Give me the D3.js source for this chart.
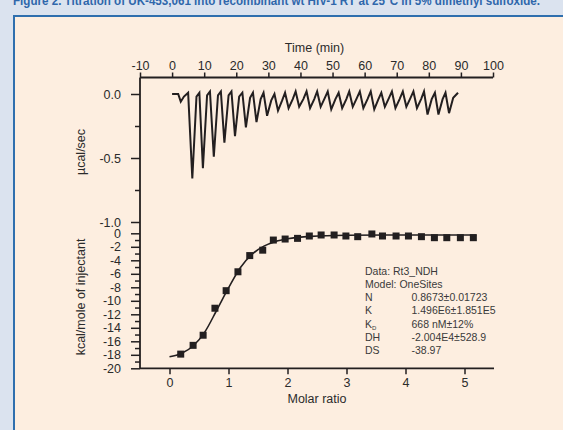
<!DOCTYPE html>
<html>
<head>
<meta charset="utf-8">
<script src="https://cdn.jsdelivr.net/npm/d3@7"></script>
<style>
  body { margin: 0; background: #dbe3ef; }
  svg text { font-family: 'Liberation Sans', Arial, Helvetica, sans-serif; }
</style>
</head>
<body>
<svg width="563" height="430"></svg>
<script>
'use strict';

// raw ITC thermogram: [time (min), µcal/sec]
var rawTrace = [
    [0.0, 0.00], [1.9, 0.00], [2.7, -0.06], [3.7, -0.02], [5.0, 0.01],
    [6.3, -0.66], [7.6, -0.02], [8.5, 0.01],
    [9.6, -0.58], [10.9, -0.01], [11.8, 0.02],
    [13.0, -0.49], [14.3, -0.01], [15.2, 0.02],
    [16.3, -0.38], [17.6, -0.01], [18.5, 0.02],
    [19.6, -0.33], [20.9, -0.02], [21.9, 0.01],
    [23.0, -0.26], [24.3, -0.03], [25.2, 0.01],
    [26.3, -0.22], [27.6, -0.04], [28.5, 0.01],
    [29.6, -0.17], [30.9, -0.05], [31.9, 0.00],
    [33.0, -0.13], [34.3, -0.05], [35.2, 0.01],
    [36.3, -0.11], [37.6, -0.04], [38.5, 0.02],
    [39.6, -0.10], [40.9, -0.04], [41.9, 0.02],
    [43.0, -0.11], [44.3, -0.04], [45.2, 0.02],
    [46.3, -0.10], [47.6, -0.03], [48.5, 0.02],
    [49.6, -0.12], [50.9, -0.04], [51.9, 0.01],
    [53.0, -0.11], [54.3, -0.04], [55.2, 0.02],
    [56.3, -0.10], [57.6, -0.03], [58.5, 0.02],
    [59.6, -0.11], [60.9, -0.04], [61.9, 0.02],
    [63.0, -0.12], [64.3, -0.04], [65.2, 0.01],
    [66.3, -0.10], [67.6, -0.03], [68.5, 0.02],
    [69.6, -0.11], [70.9, -0.04], [71.9, 0.02],
    [73.0, -0.10], [74.3, -0.03], [75.2, 0.02],
    [76.3, -0.11], [77.6, -0.04], [78.5, 0.02],
    [79.6, -0.16], [80.9, -0.04], [81.9, 0.01],
    [83.0, -0.16], [84.3, -0.04], [85.2, 0.01],
    [86.3, -0.15], [87.6, -0.03], [89.1, 0.01]
];

// integrated heats per injection
var molarRatio = [0.19, 0.40, 0.57, 0.77, 0.96, 1.16, 1.36, 1.58, 1.76, 1.96,
    2.17, 2.37, 2.57, 2.79, 2.99, 3.19, 3.43, 3.61, 3.84, 4.05,
    4.27, 4.49, 4.70, 4.93, 5.15];
var heat = [-17.9, -16.6, -15.1, -11.1, -8.5, -5.7, -3.3, -2.5, -1.0, -0.85,
    -0.75, -0.4, -0.25, -0.25, -0.4, -0.5, -0.1, -0.4, -0.4, -0.4,
    -0.5, -0.65, -0.65, -0.65, -0.65];

// one-site fit curve
var fitRatio = [0.0, 0.2, 0.4, 0.6, 0.8, 1.0, 1.2, 1.4, 1.6, 1.8, 2.0, 2.4, 3.0, 4.0, 5.2];
var fitHeat = [-18.3, -17.8, -16.7, -14.6, -11.4, -8.1, -5.1, -3.1, -1.9, -1.2, -0.8, -0.45, -0.3, -0.25, -0.25];

var timeTicks = [-10, 0, 10, 20, 30, 40, 50, 60, 70, 80, 90, 100];
var powerTicks = [0, -0.5, -1.0];
var powerMinor = [-0.25, -0.75];
var ratioTicks = [0, 1, 2, 3, 4, 5];
var heatTicks = [0, -2, -4, -6, -8, -10, -12, -14, -16, -18, -20];
var heatMinor = [-1, -3, -5, -7, -9, -11, -13, -15, -17, -19];

var fitLabels = ['N', 'K', 'KD', 'DH', 'DS'];
var fitValues = ['0.8673\u00b10.01723', '1.496E6\u00b11.851E5', '668 nM\u00b112%', '-2.004E4\u00b1528.9', '-38.97'];

var title = 'Figure 2.  Titration of UK-453,061 into recombinant wt HIV-1 RT at 25\u00b0C in 5% dimethyl sulfoxide.';

var ink = '#231f20',
    svg = d3.select('svg');

// figure box
svg.append('text')
    .attr('x', 13)
    .attr('y', 4.5)
    .attr('textLength', 527)
    .attr('lengthAdjust', 'spacingAndGlyphs')
    .style('font-family', "'Liberation Sans Narrow', 'Liberation Sans', Arial, sans-serif")
    .style('font-weight', 'bold')
    .style('font-size', '12.5px')
    .attr('fill', '#2f67ab')
    .text(title);

svg.append('rect')
    .attr('x', 14)
    .attr('y', 16)
    .attr('width', 600)
    .attr('height', 500)
    .attr('fill', '#fdeee0')
    .attr('stroke', '#2f6fae')
    .attr('stroke-width', 2);

var left = 140, topAxisY = 77.5, bottomAxisY = 368.3;

var xTime = d3.scaleLinear().domain([-10, 100]).range([left, 493]);
var yPower = d3.scaleLinear().domain([0, -1]).range([94, 222]);
var xRatio = d3.scaleLinear().domain([-0.5, 5.5]).range([left, 494]);
var yHeat = d3.scaleLinear().domain([0, -20]).range([233.3, bottomAxisY]);

function styleAxis(g, size) {
    g.select('.domain').remove();
    g.selectAll('line').attr('stroke', ink).attr('stroke-width', 1.5);
    g.selectAll('text').attr('fill', '#2b2b2b').style('font-size', size || '12.5px');
}

// time axis (top)
svg.append('g')
    .attr('transform', 'translate(0,' + topAxisY + ')')
    .call(d3.axisTop(xTime).tickValues(timeTicks).tickSize(5).tickPadding(3)
        .tickFormat(function(d) { return String(d); }))
    .call(styleAxis);

// power axis (upper left)
svg.append('g')
    .attr('transform', 'translate(' + left + ',0)')
    .call(d3.axisLeft(yPower).tickValues(powerTicks).tickSize(9).tickPadding(10)
        .tickFormat(function(d) { return d.toFixed(1); }))
    .call(styleAxis);
svg.append('g')
    .attr('transform', 'translate(' + left + ',0)')
    .call(d3.axisLeft(yPower).tickValues(powerMinor).tickSize(5).tickFormat(''))
    .call(styleAxis);

// heat axis (lower left)
svg.append('g')
    .attr('transform', 'translate(' + left + ',0)')
    .call(d3.axisLeft(yHeat).tickValues(heatTicks).tickSize(9).tickPadding(10)
        .tickFormat(function(d) { return String(d); }))
    .call(styleAxis);
svg.append('g')
    .attr('transform', 'translate(' + left + ',0)')
    .call(d3.axisLeft(yHeat).tickValues(heatMinor).tickSize(5).tickFormat(''))
    .call(styleAxis);

// molar ratio axis (bottom)
svg.append('g')
    .attr('transform', 'translate(0,' + bottomAxisY + ')')
    .call(d3.axisBottom(xRatio).tickValues(ratioTicks).tickSize(6).tickPadding(3.5)
        .tickFormat(function(d) { return String(d); }))
    .call(styleAxis);

// frame lines
var frame = svg.append('g').attr('stroke', ink).attr('stroke-width', 1.8).attr('fill', 'none');
frame.append('line').attr('x1', left).attr('x2', xTime(100)).attr('y1', topAxisY).attr('y2', topAxisY);
frame.append('line').attr('x1', left).attr('x2', left).attr('y1', topAxisY).attr('y2', bottomAxisY);
frame.append('line').attr('x1', left).attr('x2', xRatio(5.5)).attr('y1', bottomAxisY).attr('y2', bottomAxisY);

// axis titles
svg.append('text')
    .attr('x', (xTime(-10) + xTime(100)) / 2 - 2)
    .attr('y', 52)
    .attr('text-anchor', 'middle')
    .attr('fill', '#2b2b2b')
    .style('font-size', '12.5px')
    .text('Time (min)');

svg.append('text')
    .attr('x', (xRatio(-0.5) + xRatio(5.5)) / 2)
    .attr('y', 402.5)
    .attr('text-anchor', 'middle')
    .attr('fill', '#2b2b2b')
    .style('font-size', '12.5px')
    .text('Molar ratio');

svg.append('text')
    .attr('transform', 'translate(85,152) rotate(-90)')
    .attr('text-anchor', 'middle')
    .attr('fill', '#2b2b2b')
    .style('font-size', '12.5px')
    .text('\u00b5cal/sec');

svg.append('text')
    .attr('transform', 'translate(85,297) rotate(-90)')
    .attr('text-anchor', 'middle')
    .attr('fill', '#2b2b2b')
    .style('font-size', '12.5px')
    .text('kcal/mole of injectant');

// thermogram
var rawLine = d3.line()
    .x(function(d) { return xTime(d[0]); })
    .y(function(d) { return yPower(d[1]); });

svg.append('path')
    .datum(rawTrace)
    .attr('d', rawLine)
    .attr('fill', 'none')
    .attr('stroke', ink)
    .attr('stroke-width', 2)
    .attr('stroke-linejoin', 'miter');

// fit curve
var fitLine = d3.line()
    .x(function(d, i) { return xRatio(fitRatio[i]); })
    .y(function(d) { return yHeat(d); })
    .curve(d3.curveMonotoneX);

svg.append('path')
    .datum(fitHeat)
    .attr('d', fitLine)
    .attr('fill', 'none')
    .attr('stroke', ink)
    .attr('stroke-width', 1.6);

// heat points
var sq = 7;
svg.selectAll('.heat-point')
    .data(heat)
    .enter()
    .append('rect')
    .attr('class', 'heat-point')
    .attr('x', function(d, i) { return xRatio(molarRatio[i]) - sq / 2; })
    .attr('y', function(d) { return yHeat(d) - sq / 2; })
    .attr('width', sq)
    .attr('height', sq)
    .attr('fill', ink);

// fit results
var notes = svg.append('g')
    .attr('fill', '#3a3a3a')
    .style('font-size', '10.5px');

notes.append('text').attr('x', 365).attr('y', 274.5).text('Data: Rt3_NDH');
notes.append('text').attr('x', 365).attr('y', 287.5).text('Model: OneSites');

fitLabels.forEach(function(lab, i) {
    var y = 301 + i * 13.3;
    var t = notes.append('text').attr('x', 365).attr('y', y);
    if (lab === 'KD') {
        t.text('K');
        t.append('tspan').attr('dy', 2).style('font-size', '6px').text('D');
    } else {
        t.text(lab);
    }
    notes.append('text').attr('x', 411.5).attr('y', y).text(fitValues[i]);
});
</script>
</body>
</html>
